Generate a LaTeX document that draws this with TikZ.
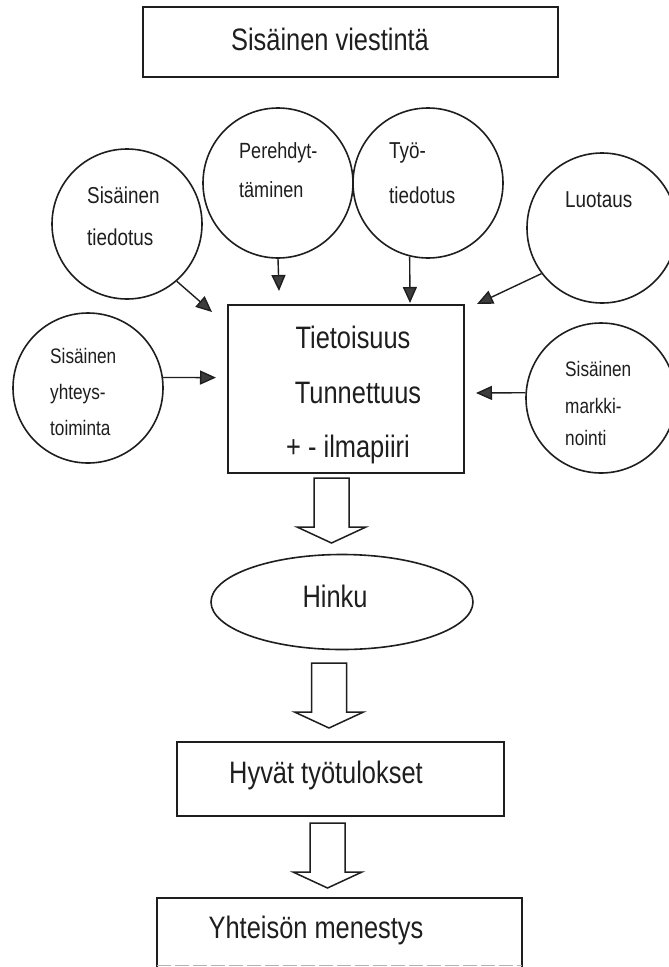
\documentclass[tikz,border=0pt]{standalone}
\usepackage{fontspec}
\setmainfont{Liberation Sans}[FakeStretch=0.82]
\usetikzlibrary{arrows.meta,shapes.geometric}
\definecolor{ink}{HTML}{1E1E1E}
\definecolor{tipgray}{HTML}{3C3C3C}
\begin{document}
\begin{tikzpicture}[x=1pt,y=-1pt,
  boxnode/.style={draw=ink,line width=1.6pt,rectangle,inner sep=0pt},
  circ/.style={draw=ink,line width=1.6pt,circle,minimum size=150pt,inner sep=0pt},
  bigtxt/.style={inner sep=0pt,font=\fontsize{31}{36}\selectfont,text=ink},
  midtxt/.style={inner sep=0pt,font=\fontsize{23}{28}\selectfont,text=ink,anchor=base west},
  smalltxt/.style={inner sep=0pt,font=\fontsize{21}{26}\selectfont,text=ink,anchor=base west},
  conn/.style={draw=ink,line width=1.4pt,-{Triangle[length=16pt,width=14pt,fill=tipgray]}},
  hollow/.style={draw=ink,line width=1.5pt,fill=white,line join=miter}
]
\useasboundingbox (0,0) rectangle (669,967);
\fill[white] (0,0) rectangle (669,967);

% top box
\node[boxnode,minimum width=415pt,minimum height=70pt] (top) at (350.5,42) {};
\node[bigtxt,anchor=base] (toptxt) at (330,50) {Sisäinen viestintä};

% circles
\node[circ] (c1) at (127,224) {};
\node[circ] (c2) at (278,183) {};
\node[circ] (c3) at (428,183) {};
\node[circ] (c4) at (602,228) {};
\node[circ] (c5) at (88,388) {};
\node[circ] (c6) at (601,398) {};

\node[midtxt] (c1a) at (87,203) {Sisäinen};
\node[midtxt] (c1b) at (87,245) {tiedotus};
\node[midtxt,font=\fontsize{22}{26}\selectfont] (c2a) at (239,158) {Perehdyt-};
\node[midtxt,font=\fontsize{22}{26}\selectfont] (c2b) at (239,197) {täminen};
\node[midtxt] (c3a) at (389,158) {Työ-};
\node[midtxt] (c3b) at (389,203) {tiedotus};
\node[midtxt] (c4a) at (565,207) {Luotaus};
\node[smalltxt] (c5a) at (50,363) {Sisäinen};
\node[smalltxt] (c5b) at (50,399) {yhteys-};
\node[smalltxt] (c5c) at (50,435) {toiminta};
\node[smalltxt] (c6a) at (565,376) {Sisäinen};
\node[smalltxt] (c6b) at (565,413) {markki-};
\node[smalltxt] (c6c) at (565,445) {nointi};

% main box
\node[boxnode,minimum width=236pt,minimum height=168pt] (main) at (346,389) {};
\node[bigtxt,anchor=base] (m1) at (353,348) {Tietoisuus};
\node[bigtxt,anchor=base] (m2) at (358,403) {Tunnettuus};
\node[bigtxt,anchor=base] (m3) at (348,457) {+ - ilmapiiri};

% arrow tips
\coordinate (t1) at (212,312);
\coordinate (t2) at (279,291);
\coordinate (t3) at (410,303);
\coordinate (t4) at (477,304);
\coordinate (t5) at (216,377.6);
\coordinate (t6) at (476,393);

\draw[conn] (c1.-49) -- (t1);
\draw[conn] (c2.south) -- (t2);
\draw[conn] (c3.-104) -- (t3);
\draw[conn] (c4.-143) -- (t4);
\draw[conn] (c5.8) -- (t5);
\draw[conn] (c6.176) -- (t6);

% Hinku
\node[draw=ink,line width=1.6pt,ellipse,minimum width=262pt,minimum height=95pt,inner sep=0pt] (hinku) at (342,602) {};
\node[bigtxt,anchor=base] (hinkutxt) at (335,607) {Hinku};

% results boxes
\node[boxnode,minimum width=327pt,minimum height=74pt] (hyvat) at (340.5,779) {};
\node[bigtxt,anchor=base] (hyvattxt) at (326,783) {Hyvät työtulokset};
\draw[ink,line width=1.6pt] (157,972) -- (157,898) -- (522,898) -- (522,972);
\draw[gray!60,line width=1pt,dash pattern=on 14pt off 4pt] (157,965) -- (522,965);
\node[bigtxt,anchor=base] (yhtxt) at (316,938) {Yhteisön menestys};
\coordinate (yht) at (339.5,898);

% hollow arrows
\coordinate (h1) at (331.5,478);
\coordinate (h2) at (329,663);
\coordinate (h3) at (327.5,823);
\foreach \c in {h1,h2,h3}{
  \draw[hollow] ([shift={(-17.5,0)}]\c) -- ++(0,49) -- ++(-17,0) -- ([shift={(0,65)}]\c)
     -- ([shift={(34.5,49)}]\c) -- ++(-17,0) -- ([shift={(17.5,0)}]\c) -- cycle;
}
\end{tikzpicture}
\end{document}
